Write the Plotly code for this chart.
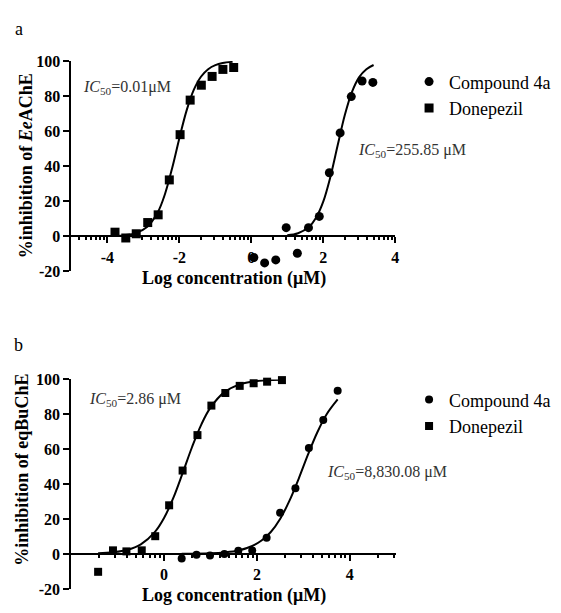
import math
import plotly.graph_objects as go

# ---------------- data ----------------
# Panel a (EeAChE)
a_cmpd_x = [0.07, 0.37, 0.68, 0.97, 1.28, 1.59, 1.89, 2.17, 2.47, 2.78, 3.08, 3.38]
a_cmpd_y = [-12.0, -15.1, -13.4, 5.0, -9.6, 5.0, 11.4, 36.3, 59.0, 79.7, 88.6, 87.8]
a_done_x = [-3.79, -3.49, -3.20, -2.88, -2.59, -2.28, -1.98, -1.70, -1.39, -1.09, -0.79, -0.49]
a_done_y = [2.4, -0.9, 1.5, 7.9, 12.3, 32.2, 58.0, 77.7, 86.2, 91.2, 95.2, 96.3]
# fitted curves
a_cmpd_fit_x = [1.0, 1.3, 1.6, 1.8, 2.0, 2.2, 2.4, 2.6, 2.8, 3.0, 3.2, 3.4]
a_cmpd_fit_y = [0.6, 1.8, 5.3, 10.6, 19.8, 34.0, 51.8, 69.2, 82.4, 90.8, 95.3, 97.7]
a_done_fit_x = [-3.8, -3.5, -3.2, -2.9, -2.6, -2.4, -2.2, -2.0, -1.8, -1.6, -1.4, -1.2, -1.0, -0.8, -0.52]
a_done_fit_y = [0.3, 0.7, 2.0, 5.4, 13.8, 24.2, 39.0, 56.0, 71.7, 83.5, 91.0, 95.3, 97.6, 98.8, 99.5]

# Panel b (eqBuChE)
b_cmpd_x = [0.38, 0.70, 0.99, 1.30, 1.60, 1.90, 2.21, 2.50, 2.83, 3.12, 3.43, 3.74]
b_cmpd_y = [-2.6, -0.4, -0.9, 0.0, 1.9, 2.0, 9.3, 23.7, 37.6, 60.7, 76.8, 93.5]
b_done_x = [-1.42, -1.10, -0.81, -0.48, -0.19, 0.11, 0.40, 0.72, 1.02, 1.32, 1.63, 1.93, 2.22, 2.54]
b_done_y = [-10.2, 2.1, 1.5, 2.1, 10.2, 27.9, 47.8, 68.1, 85.0, 92.2, 96.3, 97.8, 98.7, 99.6]
b_cmpd_fit_x = [0.38, 1.0, 1.3, 1.6, 1.9, 2.1, 2.3, 2.5, 2.7, 2.9, 3.1, 3.3, 3.5, 3.74]
b_cmpd_fit_y = [0.1, 0.4, 0.9, 2.0, 4.6, 7.7, 12.6, 20.1, 30.4, 43.1, 56.9, 69.6, 79.9, 88.5]
b_done_fit_x = [-1.42, -1.1, -0.8, -0.5, -0.2, 0.0, 0.2, 0.4, 0.6, 0.8, 1.0, 1.3, 1.6, 1.9, 2.2, 2.54]
b_done_fit_y = [0.4, 1.0, 2.3, 5.5, 12.5, 20.6, 32.1, 46.3, 61.0, 74.0, 83.8, 92.7, 96.9, 98.7, 99.5, 99.8]

series_names = ["Compound 4a", "Donepezil"]
a_xticks = [-4, -2, 0, 2, 4]
a_xticktext = ["-4", "-2", "0", "2", "4"]
b_xticks = [0, 2, 4]
b_xticktext = ["0", "2", "4"]
y_ticks = [-20, 0, 20, 40, 60, 80, 100]
y_ticktext = ["-20", "0", "20", "40", "60", "80", "100"]
a_ic50_cmpd = "<i>IC</i><sub>50</sub>=255.85 μM"
a_ic50_done = "<i>IC</i><sub>50</sub>=0.01μM"
b_ic50_cmpd = "<i>IC</i><sub>50</sub>=8,830.08 μM"
b_ic50_done = "<i>IC</i><sub>50</sub>=2.86 μM"
a_ytitle = "%inhibition of <i>Ee</i>AChE"
b_ytitle = "%inhibition of eqBuChE"
xtitle = "Log concentration (μM)"

# ---------------- layout helpers ----------------
W, H = 561, 613
FONT = "Liberation Serif"


def px_x(p):
    return p / W


def px_y(p):
    return 1 - p / H


def minor_vals(lo, hi):
    vals = []
    a = math.floor(lo / 2) * 2 - 2
    while a < hi:
        for k in range(2, 10):
            v = a + 2 * math.log10(k)
            if lo < v < hi:
                vals.append(round(v, 4))
        a += 2
    return vals


fig = go.Figure()

line_style = dict(color="black", width=2, shape="spline")

# panel a traces
fig.add_trace(go.Scatter(x=a_cmpd_fit_x, y=a_cmpd_fit_y, mode="lines", line=line_style,
                         showlegend=False, xaxis="x", yaxis="y", hoverinfo="skip"))
fig.add_trace(go.Scatter(x=a_done_fit_x, y=a_done_fit_y, mode="lines", line=line_style,
                         showlegend=False, xaxis="x", yaxis="y", hoverinfo="skip"))
fig.add_trace(go.Scatter(x=a_cmpd_x, y=a_cmpd_y, mode="markers", name=series_names[0],
                         marker=dict(symbol="circle", size=9, color="black"), xaxis="x", yaxis="y",
                         legend="legend", cliponaxis=False))
fig.add_trace(go.Scatter(x=a_done_x, y=a_done_y, mode="markers", name=series_names[1],
                         marker=dict(symbol="square", size=9, color="black"), xaxis="x", yaxis="y",
                         legend="legend", cliponaxis=False))

# panel b traces
fig.add_trace(go.Scatter(x=b_cmpd_fit_x, y=b_cmpd_fit_y, mode="lines", line=line_style,
                         showlegend=False, xaxis="x2", yaxis="y2", hoverinfo="skip"))
fig.add_trace(go.Scatter(x=b_done_fit_x, y=b_done_fit_y, mode="lines", line=line_style,
                         showlegend=False, xaxis="x2", yaxis="y2", hoverinfo="skip"))
fig.add_trace(go.Scatter(x=b_cmpd_x, y=b_cmpd_y, mode="markers", name=series_names[0],
                         marker=dict(symbol="circle", size=8, color="black"), xaxis="x2", yaxis="y2",
                         legend="legend2", cliponaxis=False))
fig.add_trace(go.Scatter(x=b_done_x, y=b_done_y, mode="markers", name=series_names[1],
                         marker=dict(symbol="square", size=8, color="black"), xaxis="x2", yaxis="y2",
                         legend="legend2", cliponaxis=False))

a_ydom = [px_y(271), px_y(54.5)]
b_ydom = [px_y(597.5), px_y(382)]
yr = [-20, 100]


def zero_pos(dom):
    return dom[0] + (0 - yr[0]) / (yr[1] - yr[0]) * (dom[1] - dom[0])


tickfont = dict(family=FONT, size=16, color="black", weight="bold")
common_x = dict(showline=True, linecolor="black", linewidth=2, ticks="outside", ticklen=6, tickwidth=2,
                tickcolor="black", showgrid=False, zeroline=False, tickfont=tickfont, anchor="free")
common_y = dict(showline=True, linecolor="black", linewidth=2, ticks="outside", ticklen=6, tickwidth=2,
                tickcolor="black", showgrid=False, zeroline=False, tickfont=tickfont, range=yr,
                tickmode="array", tickvals=y_ticks, ticktext=y_ticktext)

fig.update_layout(
    width=W, height=H,
    margin=dict(l=0, r=0, t=0, b=0),
    paper_bgcolor="white", plot_bgcolor="white",
    font=dict(family=FONT, color="black"),
    xaxis=dict(common_x, domain=[px_x(72), px_x(398)], range=[-5, 4], position=zero_pos(a_ydom),
               tickmode="array", tickvals=a_xticks, ticktext=a_xticktext,
               minor=dict(tickmode="array", tickvals=minor_vals(-5, 4), ticks="outside", ticklen=3,
                          tickwidth=1.5, tickcolor="black")),
    yaxis=dict(common_y, domain=a_ydom, anchor="x"),
    xaxis2=dict(common_x, domain=[px_x(71.7), px_x(399)], range=[-2, 5], position=zero_pos(b_ydom),
                tickmode="array", tickvals=b_xticks, ticktext=b_xticktext,
                minor=dict(tickmode="array", tickvals=minor_vals(-2, 5), ticks="outside", ticklen=3,
                           tickwidth=1.5, tickcolor="black")),
    yaxis2=dict(common_y, domain=b_ydom, anchor="x2"),
    legend=dict(x=px_x(412), y=px_y(57), xanchor="left", yanchor="top",
                font=dict(family=FONT, size=18, color="black"), bgcolor="rgba(0,0,0,0)"),
    legend2=dict(x=px_x(412), y=px_y(384), xanchor="left", yanchor="top",
                 font=dict(family=FONT, size=18, color="black"), bgcolor="rgba(0,0,0,0)"),
)

ann_font = dict(family=FONT, size=16, color="#333333")
title_font = dict(family=FONT, size=18, color="black", weight="bold")
annotations = [
    dict(text=a_ic50_done, x=px_x(82), y=px_y(82), xanchor="left", yanchor="middle", font=ann_font),
    dict(text=a_ic50_cmpd, x=px_x(359), y=px_y(147), xanchor="left", yanchor="middle", font=ann_font),
    dict(text=b_ic50_done, x=px_x(88), y=px_y(403), xanchor="left", yanchor="middle", font=ann_font),
    dict(text=b_ic50_cmpd, x=px_x(327), y=px_y(478), xanchor="left", yanchor="middle", font=ann_font),
    dict(text=a_ytitle, x=px_x(26), y=px_y(162), textangle=-90, xanchor="center", yanchor="middle", font=title_font),
    dict(text=b_ytitle, x=px_x(22), y=px_y(475), textangle=-90, xanchor="center", yanchor="middle", font=title_font),
    dict(text=xtitle, x=px_x(236), y=px_y(278), xanchor="center", yanchor="middle", font=title_font),
    dict(text=xtitle, x=px_x(236), y=px_y(604), xanchor="center", yanchor="middle", font=title_font),
    dict(text="a", x=px_x(19), y=px_y(22), xanchor="center", yanchor="middle",
         font=dict(family=FONT, size=18, color="black")),
    dict(text="b", x=px_x(19), y=px_y(347), xanchor="center", yanchor="middle",
         font=dict(family=FONT, size=18, color="black")),
]
for a in annotations:
    a.update(xref="paper", yref="paper", showarrow=False)
fig.update_layout(annotations=annotations)

fig.write_html("out.html", config={"displayModeBar": False},
               post_script="document.body.style.margin='0px';document.body.style.padding='0px';")
